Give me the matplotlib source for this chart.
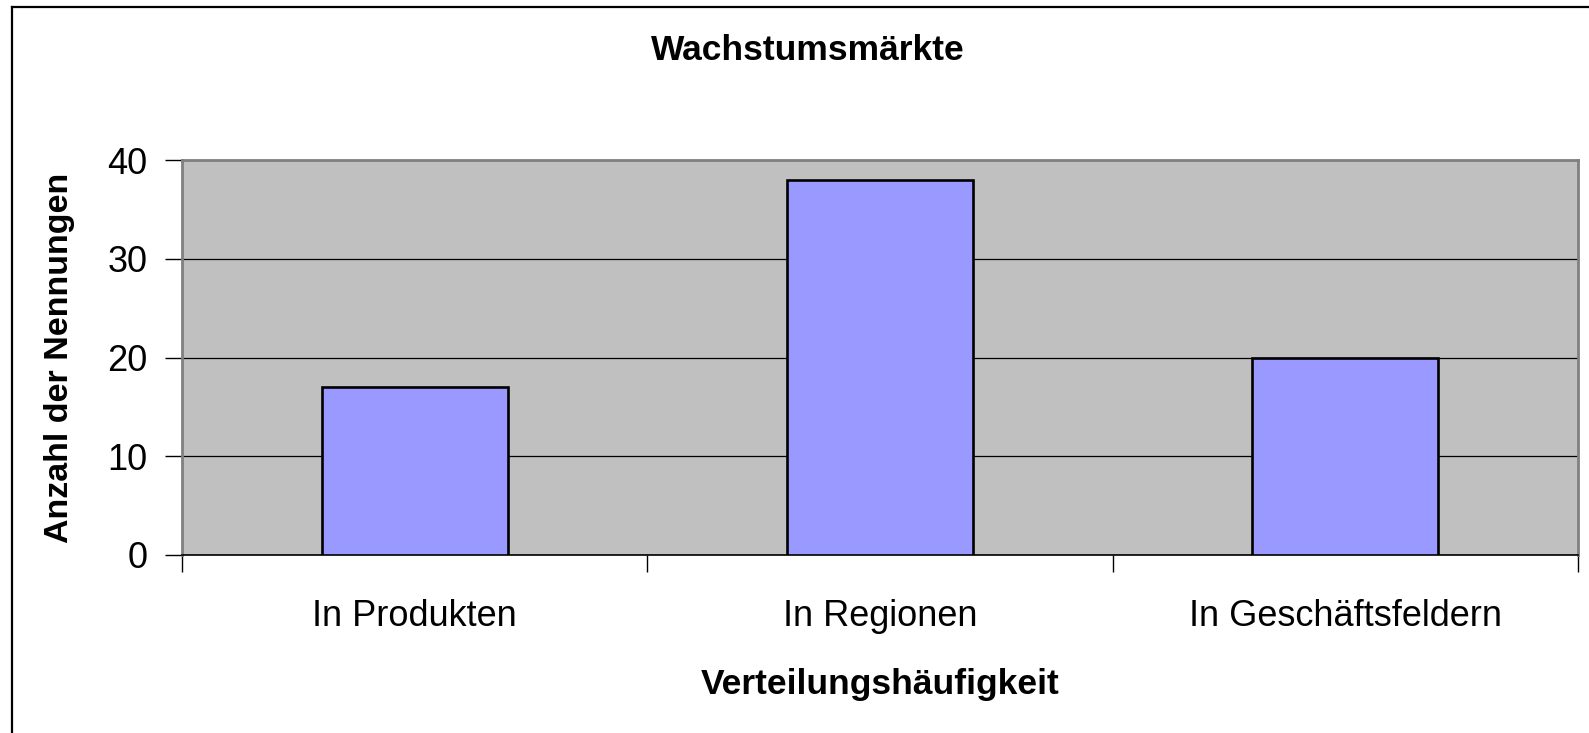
import matplotlib
matplotlib.use("Agg")
import matplotlib.pyplot as plt
from matplotlib.lines import Line2D

# data
categories = ["In Produkten", "In Regionen", "In Geschäftsfeldern"]
values = [17, 38, 20]
yticks = [0, 10, 20, 30, 40]

title = "Wachstumsmärkte"
xlabel = "Verteilungshäufigkeit"
ylabel = "Anzahl der Nennungen"

plt.rcParams['font.family'] = ['Liberation Sans', 'DejaVu Sans']

W, H = 1589, 733
fig = plt.figure(figsize=(W / 100, H / 100), dpi=100)
ax = fig.add_axes([182 / W, 1 - 555 / H, (1578 - 182) / W, (555 - 160) / H])

# plot area
ax.set_facecolor("#C0C0C0")
for s in ["top", "right", "left"]:
    ax.spines[s].set_color("#808080")
    ax.spines[s].set_linewidth(2)
ax.spines["bottom"].set_color("black")
ax.spines["bottom"].set_linewidth(1.2)

x = list(range(len(categories)))
ax.bar(x, values, width=0.4, color="#9999FF", edgecolor="black", linewidth=1.9, zorder=3)

ax.set_xlim(-0.5, len(categories) - 0.5)
ax.set_ylim(0, 40)
ax.set_yticks(yticks)
ax.yaxis.grid(True, color="black", linewidth=0.9, zorder=1)
ax.set_axisbelow(True)

# category labels centred, ticks on boundaries
ax.set_xticks(x)
ax.set_xticklabels(categories, fontsize=26)
ax.set_xticks([i - 0.5 for i in range(len(categories) + 1)], minor=True)
ax.tick_params(axis="x", which="major", length=0, pad=32)
ax.tick_params(axis="x", which="minor", length=12, width=1, color="black", direction="out")
ax.tick_params(axis="y", length=12, width=1, color="black", labelsize=26, pad=13)

ax.set_xlabel(xlabel, fontsize=25.5, fontweight="bold")
ax.xaxis.set_label_coords(0.5, -0.285)
ax.set_ylabel(ylabel, fontsize=24.5, fontweight="bold")
ax.yaxis.set_label_coords(-0.077, 0.5)

fig.text(808 / W, 1 - 50 / H, title, fontsize=25.5, fontweight="bold",
         ha="center", va="center")

# outer chart frame (only left and top visible in the crop)
fig.add_artist(Line2D([11.5 / W, 11.5 / W], [-0.01, 1 - 6.5 / H], color="black", linewidth=1.6))
fig.add_artist(Line2D([11.5 / W, 1.01], [1 - 6.5 / H, 1 - 6.5 / H], color="black", linewidth=1.6))

fig.savefig("out.png", dpi=100)
